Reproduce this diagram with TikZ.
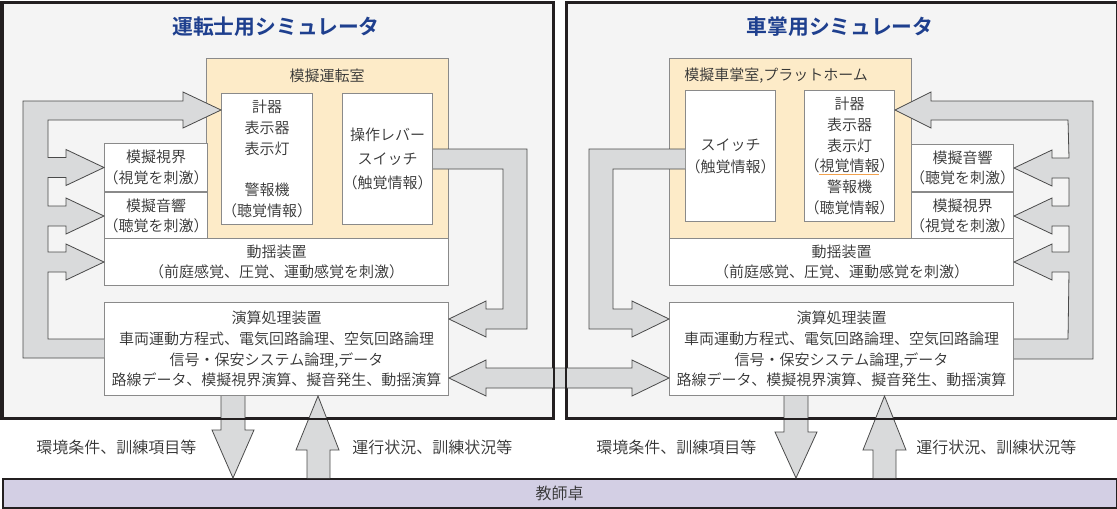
\documentclass[tikz,border=0pt]{standalone}
\usepackage{fontspec}
\setmainfont{Noto Sans CJK JP DemiLight}[BoldFont={Noto Sans CJK JP Bold}]
\usetikzlibrary{positioning,calc}
\definecolor{panelfill}{HTML}{F4F4F4}
\definecolor{panelline}{HTML}{231F20}
\definecolor{roomfill}{HTML}{FDEBC8}
\definecolor{boxline}{HTML}{8A8A8A}
\definecolor{arrowfill}{HTML}{D9DADB}
\definecolor{arrowline}{HTML}{4A4A4A}
\definecolor{deskfill}{HTML}{D3CFE4}
\definecolor{titleblue}{HTML}{1E3F8E}
\definecolor{txt}{HTML}{333333}
\definecolor{uline}{HTML}{F2A24E}
\newlength\px \setlength\px{0.75pt}
\newcommand\lp{\kern-.25em（}
\newcommand\rp{）\kern-.25em}

\begin{document}
\begin{tikzpicture}[x=0.75pt,y=-0.75pt,
		panel/.style={fill=panelfill,draw=panelline,line width=1.5pt,inner sep=0pt,anchor=north west},
		room/.style={fill=roomfill,draw=boxline,line width=0.75pt,inner sep=0pt,anchor=north west},
		box/.style={fill=white,draw=boxline,line width=0.75pt,inner sep=0pt,anchor=north west,
			align=center,text=txt,font={\fontsize{11.25}{15.5}\selectfont}},
		lbl/.style={text=txt,inner sep=0pt,font={\fontsize{11.25}{15.5}\selectfont}},
		note/.style={text=txt,inner sep=0pt,anchor=west,font={\fontsize{12}{14}\selectfont}},
		title/.style={text=titleblue,inner sep=0pt,font={\fontsize{15.6}{18}\selectfont\bfseries}},
		fat/.style={fill=arrowfill,draw=arrowline,line width=0.6pt,line join=miter}]
	\useasboundingbox (0,0) rectangle (1117,508);

	% two simulators and the desk
	\node[panel,minimum width=550.5\px,minimum height=415.5\px] (driverSim) at (1.5,1.5) {};
	\node[panel,minimum width=549.5\px,minimum height=415.5\px] (conductorSim) at (566,1.5) {};
	\node[panel,fill=deskfill,minimum width=1114\px,minimum height=28.5\px,font={\fontsize{12}{14}\selectfont},text=txt]
		(desk) at (1.5,478) {教師卓};
	\node[title] (titleL) at (276,27) {運転士用シミュレータ};
	\node[title] (titleR) at (840,27) {車掌用シミュレータ};

	% driver side
	\node[room,minimum width=242\px,minimum height=180\px] (cabL) at (206,58) {};
	\node[lbl] (cabLt) at (327,76) {模擬運転室};
	\node[box,minimum width=91\px,minimum height=131\px] (keikiL) at (221,93)
		{計器\\表示器\\表示灯\\ \\警報機\\\lp 聴覚情報\rp};
	\node[box,minimum width=90\px,minimum height=131\px] (sosaL) at (342,93)
		{操作レバー\\[2.5pt]スイッチ\\[2.5pt]\lp 触覚情報\rp};
	\node[box,minimum width=103\px,minimum height=48\px] (shikaiL) at (104,143) {模擬視界\\\lp 視覚を刺激\rp};
	\node[box,minimum width=103\px,minimum height=47\px,below=0pt of shikaiL] (onkyoL) {模擬音響\\\lp 聴覚を刺激\rp};
	\node[box,minimum width=344\px,minimum height=47\px] (doyoL) at (104,238)
		{動揺装置\\\lp 前庭感覚、圧覚、運動感覚を刺激\rp};
	\node[box,minimum width=344\px,minimum height=93\px] (enzanL) at (104,302)
		{演算処理装置\\車両運動方程式、電気回路論理、空気回路論理\\信号・保安システム論理,データ\\路線データ、模擬視界演算、擬音発生、動揺演算};

	% conductor side
	\node[room,minimum width=242\px,minimum height=180\px] (cabR) at (669,58) {};
	\node[lbl,anchor=west] (cabRt) at (684,76) {模擬車掌室,プラットホーム};
	\node[box,minimum width=90\px,minimum height=131\px] (switchR) at (685,90)
		{スイッチ\\[1pt]\lp 触覚情報\rp};
	\node[box,minimum width=90\px,minimum height=131\px] (keikiR) at (804,90)
		{計器\\表示器\\表示灯\\\lp 視覚情報\rp\\警報機\\\lp 聴覚情報\rp};
	\draw[uline,line width=0.6pt] (819,174) -- (879,174);
	\node[box,minimum width=102\px,minimum height=47\px] (onkyoR) at (911,144) {模擬音響\\\lp 聴覚を刺激\rp};
	\node[box,minimum width=102\px,minimum height=47\px,below=0pt of onkyoR] (shikaiR) {模擬視界\\\lp 視覚を刺激\rp};
	\node[box,minimum width=344\px,minimum height=47\px] (doyoR) at (669,238)
		{動揺装置\\\lp 前庭感覚、圧覚、運動感覚を刺激\rp};
	\node[box,minimum width=344\px,minimum height=93\px] (enzanR) at (669,302)
		{演算処理装置\\車両運動方程式、電気回路論理、空気回路論理\\信号・保安システム論理,データ\\路線データ、模擬視界演算、擬音発生、動揺演算};

	% fat arrows
	\filldraw[fat] (enzanL.west |- 0,358) -- (23,358) -- (23,101) -- (183,101) -- (183,92)
		-- (keikiL.west |- 0,110) -- (183,128) -- (183,120) -- (48,120)
		\foreach \b in {shikaiL,onkyoL,doyoL} {
			-- ($(\b.west)+(-56,-10)$) -- ($(\b.west)+(-38,-10)$) -- ($(\b.west)+(-38,-18)$)
			-- (\b.west) -- ($(\b.west)+(-38,18)$) -- ($(\b.west)+(-38,10)$) -- ($(\b.west)+(-56,10)$)}
		-- (48,339) -- (enzanL.west |- 0,339);
	\filldraw[fat] (enzanR.east |- 0,359) -- (1093,359) -- (1093,101) -- (931,101) -- (931,92)
		-- (keikiR.east |- 0,110) -- (931,128) -- (931,120) -- (1068,120)
		\foreach \b in {onkyoR,shikaiR,doyoR} {
			-- ($(\b.east)+(55,-10)$) -- ($(\b.east)+(38,-10)$) -- ($(\b.east)+(38,-18)$)
			-- (\b.east) -- ($(\b.east)+(38,18)$) -- ($(\b.east)+(38,10)$) -- ($(\b.east)+(55,10)$)}
		-- (1068,339) -- (enzanR.east |- 0,339);
	\filldraw[fat] (sosaL.east |- 0,149) -- (527,149) -- (527,329) -- (486,329) -- (486,337)
		-- (enzanL.east |- 0,319) -- (486,301) -- (486,309) -- (503,309) -- (503,169) -- (sosaL.east |- 0,169);
	\filldraw[fat] (switchR.west |- 0,149) -- (589,149) -- (589,329) -- (632,329) -- (632,337)
		-- (enzanR.west |- 0,319) -- (632,301) -- (632,309) -- (613,309) -- (613,169) -- (switchR.west |- 0,169);
	\filldraw[fat] (enzanL.east |- 0,378) -- (486,360) -- (486,368) -- (632,368) -- (632,360)
		-- (enzanR.west |- 0,378) -- (632,396) -- (632,388) -- (486,388) -- (486,396) -- cycle;
	\filldraw[fat] (enzanL.south -| 221,0) -- (221,430) -- (212,430) -- (desk.north -| 233,0)
		-- (254,430) -- (245,430) -- (enzanL.south -| 245,0);
	\filldraw[fat] (desk.north -| 307,0) -- (307,450) -- (296,450) -- (enzanL.south -| 318,0)
		-- (339,450) -- (330,450) -- (desk.north -| 330,0);
	\filldraw[fat] (enzanR.south -| 784,0) -- (784,432) -- (775,432) -- (desk.north -| 796,0)
		-- (817,432) -- (808,432) -- (enzanR.south -| 808,0);
	\filldraw[fat] (desk.north -| 873,0) -- (873,450) -- (863,450) -- (enzanR.south -| 884.5,0)
		-- (906,450) -- (896,450) -- (desk.north -| 896,0);
	\draw[panelline,line width=1.5pt] (driverSim.north west) rectangle (driverSim.south east)
		(conductorSim.north west) rectangle (conductorSim.south east);

	% labels under the simulators
	\node[note] (envL) at (36,447) {環境条件、訓練項目等};
	\node[note] (runL) at (352,447) {運行状況、訓練状況等};
	\node[note] (envR) at (596,447) {環境条件、訓練項目等};
	\node[note] (runR) at (916,447) {運行状況、訓練状況等};
\end{tikzpicture}
\end{document}
